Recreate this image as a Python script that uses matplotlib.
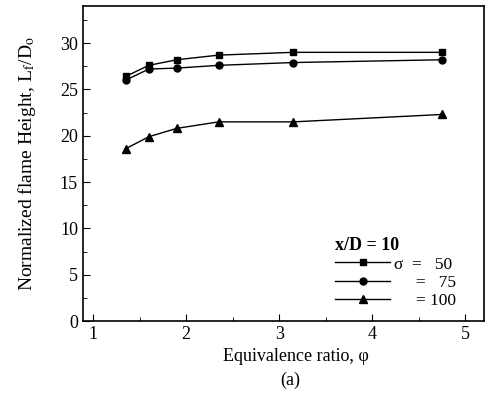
import matplotlib
matplotlib.use("Agg")
import matplotlib.pyplot as plt
from matplotlib.ticker import MultipleLocator

plt.rcParams['font.family'] = ['Liberation Serif', 'DejaVu Serif']
plt.rcParams['mathtext.fontset'] = 'stix'

phi = [1.35, 1.6, 1.9, 2.35, 3.15, 4.75]
h_50 = [26.4, 27.6, 28.2, 28.7, 29.0, 29.0]
h_75 = [26.0, 27.2, 27.3, 27.6, 27.9, 28.2]
h_100 = [18.6, 19.9, 20.8, 21.5, 21.5, 22.3]
labels = ['σ  =   50', '     =   75', '     = 100']

fig = plt.figure(figsize=(4.87, 3.99), dpi=100)
ax = fig.add_axes([0.170, 0.195, 0.824, 0.790])

ax.plot(phi, h_50, 'k-', marker='s', ms=5, lw=1, label=labels[0])
ax.plot(phi, h_75, 'k-', marker='o', ms=5, lw=1, label=labels[1])
ax.plot(phi, h_100, 'k-', marker='^', ms=6, lw=1, label=labels[2])

ax.set_xlim(0.89, 5.2)
ax.set_ylim(0, 34)
ax.xaxis.set_major_locator(MultipleLocator(1))
ax.xaxis.set_minor_locator(MultipleLocator(0.5))
ax.yaxis.set_major_locator(MultipleLocator(5))
ax.yaxis.set_minor_locator(MultipleLocator(2.5))
ax.tick_params(which='both', direction='in', top=False, right=False, labelsize=13)
ax.tick_params(which='major', length=5)
ax.tick_params(which='minor', length=3)
for s in ax.spines.values():
    s.set_linewidth(1.2)

ax.set_xlabel('Equivalence ratio, φ', fontsize=13, labelpad=2)
ax.xaxis.set_label_coords(0.53, -0.085)
ax.set_ylabel(r'Normalized flame Height, L$_{\rm f}$/D$_{\rm o}$', fontsize=14, labelpad=16)

leg = ax.legend(title='x/D = 10', loc='lower right', bbox_to_anchor=(0.96, 0.0),
                frameon=False, fontsize=12.5, handlelength=3.2, labelspacing=0.12,
                handletextpad=0.2, borderpad=0.2)
leg.get_title().set_fontweight('bold')
leg.get_title().set_fontsize(13)
leg._legend_box.align = 'left'

fig.text(0.595, 0.035, '(a)', ha='center', fontsize=13)

fig.savefig('out.png', dpi=100)
